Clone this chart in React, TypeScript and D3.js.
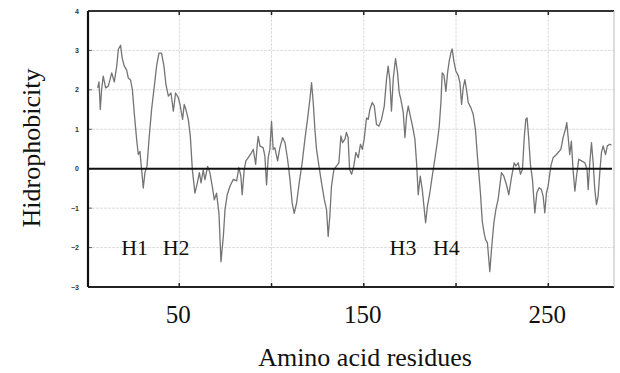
import { useEffect, useRef } from "react";
import * as d3 from "d3";

// residue positions
const residues = [
  5.8, 6.5, 7.2, 7.9, 8.8, 10.1, 11.6, 13.4, 14.8, 16.1, 17.0, 18.2, 19.1, 20.2, 21.5,
  22.4, 23.6, 24.6, 25.6, 26.9, 27.8, 28.7, 29.6, 30.5, 31.4, 32.5, 33.6, 35.0, 36.5, 37.7,
  39.0, 40.4, 41.7, 42.8, 44.1, 45.5, 46.8, 48.0, 49.5, 50.4, 51.8, 52.7, 53.6, 54.9, 56.0,
  57.1, 58.5, 59.8, 60.9, 61.8, 63.0, 63.9, 65.4, 66.6, 67.9, 69.0, 70.2, 71.5,
  72.6, 73.9, 74.8, 76.0, 77.5, 79.3, 81.1, 82.3, 83.4, 84.1, 85.2, 86.1, 87.4, 89.2, 90.1,
  91.4, 92.3, 92.8, 93.7, 95.5, 96.4, 97.3, 98.2, 99.1, 100.0, 100.9, 101.8, 103.3, 104.5, 106.0,
  107.3, 108.7, 110.0, 111.2, 112.3, 113.6, 115.0, 116.6, 118.1, 119.5, 120.8, 121.7, 122.6, 123.5, 124.4,
  125.7, 127.1, 128.6, 129.8, 130.7, 131.6, 132.5, 133.8, 135.3, 136.5, 137.6, 138.5, 139.8, 140.6, 141.5, 142.3,
  143.4, 144.6, 145.7, 147.0, 148.2, 149.2, 150.2, 151.5, 152.4, 153.3, 154.6, 155.7, 156.9, 158.2, 159.6,
  161.1, 162.3, 163.2, 164.1, 165.0, 166.0, 167.2, 168.3, 169.2, 170.1, 171.4, 172.3, 173.2, 174.1, 175.2,
  176.4, 177.7, 178.6, 179.5, 180.6, 181.7, 182.6, 183.5, 184.5, 185.8, 187.1, 188.5, 189.8, 190.9, 191.8,
  192.5, 193.4, 194.5, 195.4, 196.3, 197.2, 197.9, 198.8, 199.9, 201.2, 202.1, 203.0, 203.9, 204.8, 205.7,
  206.6, 208.0, 209.3, 210.5,
  211.6, 212.5, 213.2, 214.2, 215.2, 216.0, 217.0, 218.3, 219.2, 220.5, 221.6, 222.8, 223.7, 224.6, 225.9,
  227.3, 228.6, 230.0, 231.5, 232.4, 233.7, 234.9, 236.0, 236.9, 237.8, 238.5, 239.4, 240.3, 241.4, 242.7,
  243.8, 245.0, 246.3, 247.2, 248.1, 249.0, 249.9, 251.4, 252.6, 254.4, 256.8, 258.0, 259.3, 260.0, 260.7,
  261.6, 262.5, 263.4, 264.4, 265.3, 266.5, 268.0, 269.8, 271.0, 271.6, 272.5, 273.4, 274.3, 275.2, 276.1,
  277.0, 277.9, 278.8, 279.7, 281.0, 282.0, 283.3, 284.2,
];

// hydrophobicity at each residue above
const hydro = [
  2.05, 2.2, 1.5, 2.0, 2.35, 2.05, 2.1, 2.43, 2.2, 2.6, 3.03, 3.13, 2.8, 2.6, 2.5,
  2.3, 2.25, 2.0, 1.42, 0.74, 0.36, 0.44, -0.03, -0.49, -0.1, 0.06, 0.74, 1.5, 2.1, 2.6,
  2.93, 2.93, 2.6, 2.13, 1.84, 1.92, 1.46, 1.92, 1.8, 1.63, 1.25, 1.63, 1.5, 1.25, 0.82,
  -0.03, -0.62, -0.36, -0.1, -0.36, -0.03, -0.28, 0.06, -0.1, -0.45, -0.79, -0.62, -1.12,
  -2.36, -1.71, -1.03, -0.66, -0.44, -0.27, -0.31, 0.03, -0.19, -0.66, -0.02, 0.2, 0.28, 0.41, 0.49,
  0.11, 0.62, 0.82, 0.58, 0.53, 0.32, -0.41, 0.28, 0.49, 1.2, 0.49, 0.53, 0.2, 0.53, 0.79,
  0.66, 0.24, -0.27, -0.87, -1.13, -0.87, -0.36, 0.15, 0.75, 1.25, 1.76, 2.18, 1.68, 1.0, 0.49,
  0.07, -0.36, -0.78, -1.03, -1.72, -1.2, -0.44, -0.02, 0.07, 0.15, 0.83, 0.66, 0.75, 0.92, 0.79, -0.02,
  -0.14, 0.07, 0.41, 0.28, 0.62, 0.49, 0.75, 1.29, 1.25, 1.5, 1.68, 1.59, 1.12, 1.08, 1.25,
  1.59, 2.26, 2.6, 2.26, 1.46, 2.3, 2.79, 2.43, 1.93, 1.76, 1.42, 0.79, 1.34, 1.59, 1.34,
  1.08, 0.75, 0.15, -0.66, -0.19, -0.53, -0.95, -1.37, -0.95, -0.61, -0.19, 0.24, 0.66, 1.08, 1.68,
  2.43, 2.38, 1.96, 2.43, 2.73, 2.94, 3.04, 2.73, 2.48, 2.36, 2.18, 1.63, 2.06, 2.26, 2.0,
  1.68, 1.55, 1.38, 1.0,
  0.3, -0.2, -0.61, -1.33, -1.63, -1.8, -1.88, -2.61, -2.05, -1.37, -1.03, -0.78, -0.44, -0.1, -0.19,
  -0.4, -0.66, -0.23, 0.15, 0.07, 0.15, -0.14, -0.02, 0.75, 1.25, 1.29, 0.75, 0.11, -0.27, -1.12,
  -0.61, -0.48, -0.53, -0.7, -1.12, -0.61, -0.44, 0.07, 0.28, 0.36, 0.49, 0.79, 1.0, 1.17, 0.83,
  0.36, 0.7, -0.02, -0.57, -0.19, 0.24, 0.2, 0.15, -0.02, -0.53, 0.15, 0.66, 0.15, -0.53, -0.91,
  -0.7, -0.1, 0.41, 0.58, 0.36, 0.58, 0.62, 0.6,
];

const yTicks = [4, 3, 2, 1, 0, -1, -2, -3];
const xTicks = [50, 100, 150, 200, 250];
const xTickLabels = ["50", "150", "250"];

// helix labels with the residue where each starts
const helixNames = ["H1", "H2", "H3", "H4"];
const helixAt = [18.5, 41, 164, 187.5];

export default function App() {
  const ref = useRef<SVGSVGElement>(null);

  useEffect(() => {
    if (!ref.current) return;
    const svg = d3.select(ref.current);
    svg.selectAll("*").remove();

    const left = 88;
    const right = 614;
    const top = 11;
    const bottom = 287;

    const x = d3.scaleLinear().domain([0, 285.6]).range([left - 1, right]);
    const y = d3.scaleLinear().domain([-3, 4]).range([bottom, top]);

    const serif = "'Liberation Serif', 'Times New Roman', serif";

    // grid
    svg
      .append("g")
      .selectAll("line")
      .data(xTicks)
      .join("line")
      .attr("x1", (d) => x(d))
      .attr("x2", (d) => x(d))
      .attr("y1", top)
      .attr("y2", bottom)
      .attr("stroke", "#d4d4d4")
      .attr("stroke-width", 0.8)
      .attr("stroke-dasharray", "3,1");

    svg
      .append("g")
      .selectAll("line")
      .data(yTicks.filter((d) => d !== 0 && d !== 4 && d !== -3))
      .join("line")
      .attr("x1", left)
      .attr("x2", right)
      .attr("y1", (d) => y(d))
      .attr("y2", (d) => y(d))
      .attr("stroke", "#d4d4d4")
      .attr("stroke-width", 0.8)
      .attr("stroke-dasharray", "3,1");

    // small tick marks top / bottom / left
    xTicks.forEach((t) => {
      svg.append("line")
        .attr("x1", x(t)).attr("x2", x(t))
        .attr("y1", top).attr("y2", top + 4)
        .attr("stroke", "#222").attr("stroke-width", 1.5);
      svg.append("line")
        .attr("x1", x(t)).attr("x2", x(t))
        .attr("y1", bottom).attr("y2", bottom - 4)
        .attr("stroke", "#222").attr("stroke-width", 1.5);
    });
    yTicks.forEach((t) => {
      svg.append("line")
        .attr("x1", left).attr("x2", left + 4)
        .attr("y1", y(t)).attr("y2", y(t))
        .attr("stroke", "#666").attr("stroke-width", 1);
    });

    // profile
    const line = d3
      .line<number>()
      .x((_, i) => x(residues[i]))
      .y((d) => y(d));

    svg
      .append("path")
      .datum(hydro)
      .attr("d", line)
      .attr("fill", "none")
      .attr("stroke", "#747474")
      .attr("stroke-width", 1.3)
      .attr("stroke-linejoin", "round");

    // zero line
    svg
      .append("line")
      .attr("x1", left)
      .attr("x2", right - 2)
      .attr("y1", y(0))
      .attr("y2", y(0))
      .attr("stroke", "#111")
      .attr("stroke-width", 2);

    // frame
    svg.append("line").attr("x1", left).attr("x2", right).attr("y1", top).attr("y2", top)
      .attr("stroke", "#333").attr("stroke-width", 1.8);
    svg.append("line").attr("x1", left).attr("x2", right).attr("y1", bottom).attr("y2", bottom)
      .attr("stroke", "#222").attr("stroke-width", 2);
    svg.append("line").attr("x1", left).attr("x2", left).attr("y1", top).attr("y2", bottom)
      .attr("stroke", "#111").attr("stroke-width", 2.2);
    svg.append("line").attr("x1", right).attr("x2", right).attr("y1", top).attr("y2", bottom)
      .attr("stroke", "#bbb").attr("stroke-width", 1);

    // y tick labels (tiny)
    svg
      .append("g")
      .selectAll("text")
      .data(yTicks)
      .join("text")
      .attr("x", 79)
      .attr("y", (d) => y(d) + 2.5)
      .attr("text-anchor", "end")
      .style("font-family", "Arial, sans-serif")
      .style("font-weight", "bold")
      .style("font-size", "7px")
      .style("fill", "#333")
      .text((d) => (d < 0 ? `\u2212${Math.abs(d)}` : `${d}`));

    // x tick labels
    svg
      .append("g")
      .selectAll("text")
      .data(xTickLabels)
      .join("text")
      .attr("x", (d) => x(+d) - 1)
      .attr("y", 323)
      .attr("text-anchor", "middle")
      .style("font-family", serif)
      .style("font-size", "25px")
      .style("fill", "#111")
      .text((d) => d);

    // helix labels
    svg
      .append("g")
      .selectAll("text")
      .data(helixNames)
      .join("text")
      .attr("x", (_, i) => x(helixAt[i]))
      .attr("y", 255)
      .style("font-family", serif)
      .style("font-size", "22px")
      .style("fill", "#111")
      .text((d) => d);

    // axis titles
    svg
      .append("text")
      .attr("x", 365)
      .attr("y", 366)
      .attr("text-anchor", "middle")
      .style("font-family", serif)
      .style("font-size", "26px")
      .style("fill", "#111")
      .text("Amino acid residues");

    svg
      .append("text")
      .attr("transform", "translate(40,148) rotate(-90)")
      .attr("text-anchor", "middle")
      .style("font-family", serif)
      .style("font-size", "26px")
      .style("fill", "#111")
      .text("Hidrophobicity");
  }, []);

  return (
    <svg
      ref={ref}
      width={620}
      height={373}
      style={{ position: "fixed", left: 0, top: 0, background: "#fff" }}
    />
  );
}
